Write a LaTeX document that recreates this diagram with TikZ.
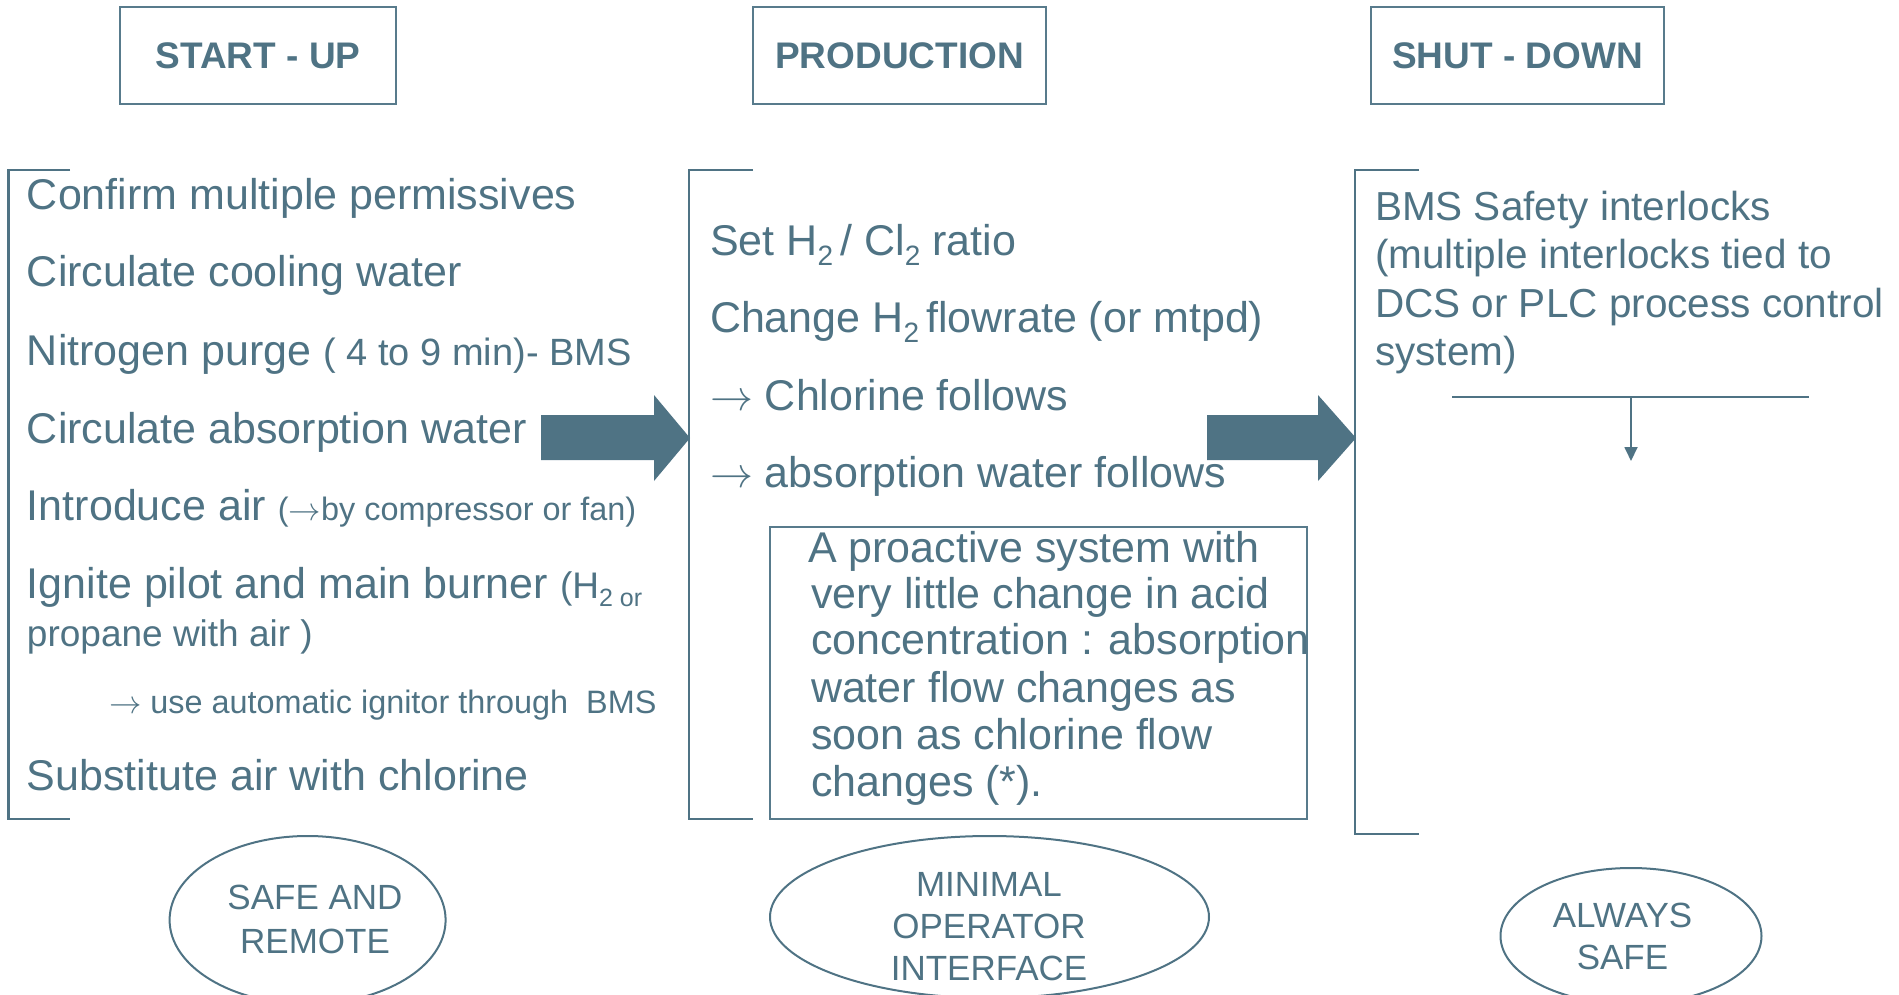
\RequirePackage{fix-cm}
\documentclass[tikz,border=0pt]{standalone}
\usepackage{fontspec}
\setmainfont{Liberation Sans}
\usetikzlibrary{arrows.meta,shapes.geometric}
\definecolor{slate}{HTML}{4F7384}
\definecolor{slateline}{HTML}{587B8C}
\newcommand{\fs}[1]{\fontsize{#1}{#1}\selectfont}
\newcommand{\lowtxt}[3]{\raisebox{-#1pt}{\fs{#2}#3}}
\newcommand{\rarr}{$\rightarrow$}
\begin{document}
\begin{tikzpicture}[x=1pt,y=-1pt,
  every node/.style={text=slate, inner sep=0pt, outer sep=0pt},
  titlebox/.style={draw=slateline, line width=2pt, font=\fs{37}\bfseries},
  item/.style={anchor=base west, font=\fs{43}},
  rtxt/.style={anchor=base west, font=\fs{40.5}},
  bracket/.style={draw=slate, line width=2.6pt},
  blockarrow/.style={fill=slate},
  oval/.style={draw=slate, line width=2pt, ellipse},
  ovaltext/.style={anchor=base, font=\fs{35}}
]
\useasboundingbox (0,0) rectangle (1899,994);

% title boxes
\node[titlebox, minimum width=276pt, minimum height=97pt] (t1) at (258,55.5) {START - UP};
\node[titlebox, minimum width=293pt, minimum height=97pt] (t2) at (899.5,55.5) {PRODUCTION};
\node[titlebox, minimum width=293pt, minimum height=97pt] (t3) at (1517.5,55.5) {SHUT - DOWN};

% brackets
\draw[bracket] (70,170) -- (8.5,170) -- (8.5,819) -- (70,819);
\draw[bracket] (753,170) -- (689,170) -- (689,819) -- (753,819);
\draw[bracket] (1419,170) -- (1355,170) -- (1355,834) -- (1419,834);

% start-up list
\node[item] (l1) at (27,209) {Confirm multiple permissives};
\node[item] (l2) at (27,286) {Circulate cooling water};
\node[item] (l3) at (27,365) {Nitrogen purge {\fs{38}( 4 to 9 min)- BMS}};
\node[item] (l4) at (27,443) {Circulate absorption water};
\node[item] (l5) at (27,520) {Introduce air {\fs{32.4}(\rarr by compressor or fan)}};
\node[item] (l6) at (27,598) {Ignite pilot and main burner {\fs{37}(H\lowtxt{8}{25}{2 or}}};
\node[item] (l7) at (27,646) {\fs{37}propane with air )};
\node[item] (l8) at (109,713) {\fs{32.4}\rarr{} use automatic ignitor through\ \ BMS};
\node[item] (l9) at (27,790) {Substitute air with chlorine};

% production list
\node[item] (m1) at (710,255) {Set H\lowtxt{10}{28}{2}\,/ Cl\lowtxt{10}{28}{2} ratio};
\node[item] (m2) at (710,332) {Change H\lowtxt{10}{28}{2}\,flowrate (or mtpd)};
\node[item] (m3) at (710,410) {\rarr{} Chlorine follows};
\node[item] (m4) at (710,487) {\rarr{} absorption water follows};

% inner box
\node[draw=slateline, line width=2pt, minimum width=537pt, minimum height=292pt] (box) at (1038.5,673) {};
\node[item] (b1) at (808,562) {A proactive system with};
\node[item] (b2) at (811,608) {very little change in acid};
\node[item] (b3) at (811,654) {concentration : absorption};
\node[item] (b4) at (811,702) {water flow changes as};
\node[item] (b5) at (811,749) {soon as chlorine flow};
\node[item] (b6) at (811,796) {changes (*).};

% shut-down text
\node[rtxt] (r1) at (1375,220) {BMS Safety interlocks};
\node[rtxt] (r2) at (1375,268) {(multiple interlocks tied to};
\node[rtxt] (r3) at (1375,317) {DCS or PLC process control};
\node[rtxt] (r4) at (1375,365) {system)};

% block arrows
\fill[blockarrow] (541,415) -- (654,415) -- (654,395) -- (690,438) -- (654,481) -- (654,460) -- (541,460) -- cycle;
\fill[blockarrow] (1207,415) -- (1318,415) -- (1318,395) -- (1356,438) -- (1318,481) -- (1318,460) -- (1207,460) -- cycle;

% tee arrow
\coordinate (hl) at (1452,397);
\coordinate (hr) at (1809,397);
\coordinate (tee) at (1631,397);
\coordinate (tipc) at (1631,461);
\draw[slate, line width=2.5pt] (hl) -- (hr);
\draw[slate, line width=1.8pt, -{Triangle[width=13pt,length=14pt]}] (tee) -- (tipc);

% ovals
\node[oval, minimum width=276pt, minimum height=168pt] (o1) at (307.6,920) {};
\node[ovaltext] (o1a) at (315,909) {SAFE AND};
\node[ovaltext] (o1b) at (315,953) {REMOTE};
\node[oval, minimum width=439pt, minimum height=162pt] (o2) at (989.5,917) {};
\node[ovaltext] (o2a) at (989,896) {MINIMAL};
\node[ovaltext] (o2b) at (989,938) {OPERATOR};
\node[ovaltext] (o2c) at (989,980) {INTERFACE};
\node[oval, minimum width=261pt, minimum height=136pt] (o3) at (1631,936) {};
\node[ovaltext] (o3a) at (1622.5,927) {ALWAYS};
\node[ovaltext] (o3b) at (1622.5,969) {SAFE};
\end{tikzpicture}
\end{document}
